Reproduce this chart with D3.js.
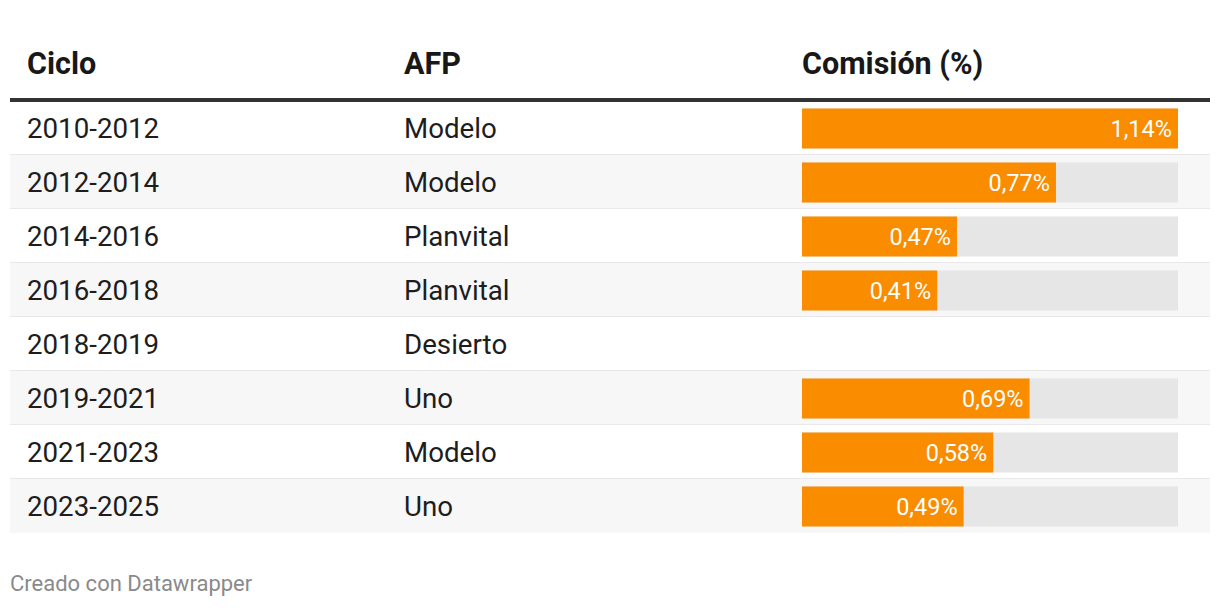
<!DOCTYPE html>
<html><head><meta charset="utf-8">
<script src="https://cdn.jsdelivr.net/npm/d3@7"></script>
<style>
html,body{margin:0;padding:0;background:#fff;}
svg{display:block;font-family:Roboto,"Noto Sans",sans-serif;}
</style></head>
<body><svg id="c" width="1220" height="608"></svg>
<script>
const headers = ["Ciclo", "AFP", "Comisión (%)"];
const ciclos = ["2010-2012","2012-2014","2014-2016","2016-2018","2018-2019","2019-2021","2021-2023","2023-2025"];
const afps = ["Modelo","Modelo","Planvital","Planvital","Desierto","Uno","Modelo","Uno"];
const comisiones = [1.14, 0.77, 0.47, 0.41, null, 0.69, 0.58, 0.49];

const svg = d3.select("#c");
const L = 10, R = 1210;
const colX = [27, 404, 802];
const trackEnd = 1178;

const y = d3.scaleBand().domain(d3.range(ciclos.length)).range([101, 101 + 54 * ciclos.length]).paddingInner(0);
const x = d3.scaleLinear().domain([0, d3.max(comisiones)]).range([colX[2], trackEnd]);
const fmt = v => d3.format(".2f")(v).replace(".", ",") + "%";

// header
svg.selectAll("text.h").data(headers).join("text")
  .attr("class","h").attr("x",(d,i)=>colX[i]).attr("y",74)
  .attr("font-size",30.5).attr("font-weight",700).attr("fill","#181818").text(d=>d);
svg.append("rect").attr("x",L).attr("y",98).attr("width",R-L).attr("height",4).attr("fill","#333");

const rows = svg.selectAll("g.row").data(ciclos.map((c,i)=>({c,a:afps[i],v:comisiones[i],i})))
  .join("g").attr("class","row").attr("transform",d=>`translate(0,${y(d.i)})`);

rows.append("rect").attr("x",L).attr("y",d=>d.i===0?1:0).attr("width",R-L)
  .attr("height",d=>(d.i===0?53:54))
  .attr("fill",d=>d.i%2===1?"#f7f7f7":"#fff");
rows.filter(d=>d.i<ciclos.length-1).append("rect").attr("x",L).attr("y",53).attr("width",R-L).attr("height",2).attr("fill","#e8e8e8");

const cy = y.bandwidth()/2 + 0.5;
rows.append("text").attr("x",colX[0]).attr("y",cy+9.5).attr("font-size",27.7).attr("fill","#1d1d1d").text(d=>d.c);
rows.append("text").attr("x",colX[1]).attr("y",cy+9.5).attr("font-size",27.7).attr("fill","#1d1d1d").text(d=>d.a);

const bars = rows.filter(d=>d.v!=null);
bars.append("rect").attr("x",x(0)).attr("y",cy-20).attr("width",x.range()[1]-x(0)).attr("height",40).attr("fill","#e6e6e6");
bars.append("rect").attr("x",x(0)).attr("y",cy-20).attr("width",d=>x(d.v)-x(0)).attr("height",40).attr("fill","#fa8c00");
bars.append("text").attr("x",d=>x(d.v)-6).attr("y",cy+8).attr("text-anchor","end")
  .attr("font-size",23.5).attr("fill","#fff").text(d=>fmt(d.v));

svg.append("text").attr("x",10).attr("y",591).attr("font-size",22).attr("fill","#8a8a8a").text("Creado con Datawrapper");
</script></body></html>
